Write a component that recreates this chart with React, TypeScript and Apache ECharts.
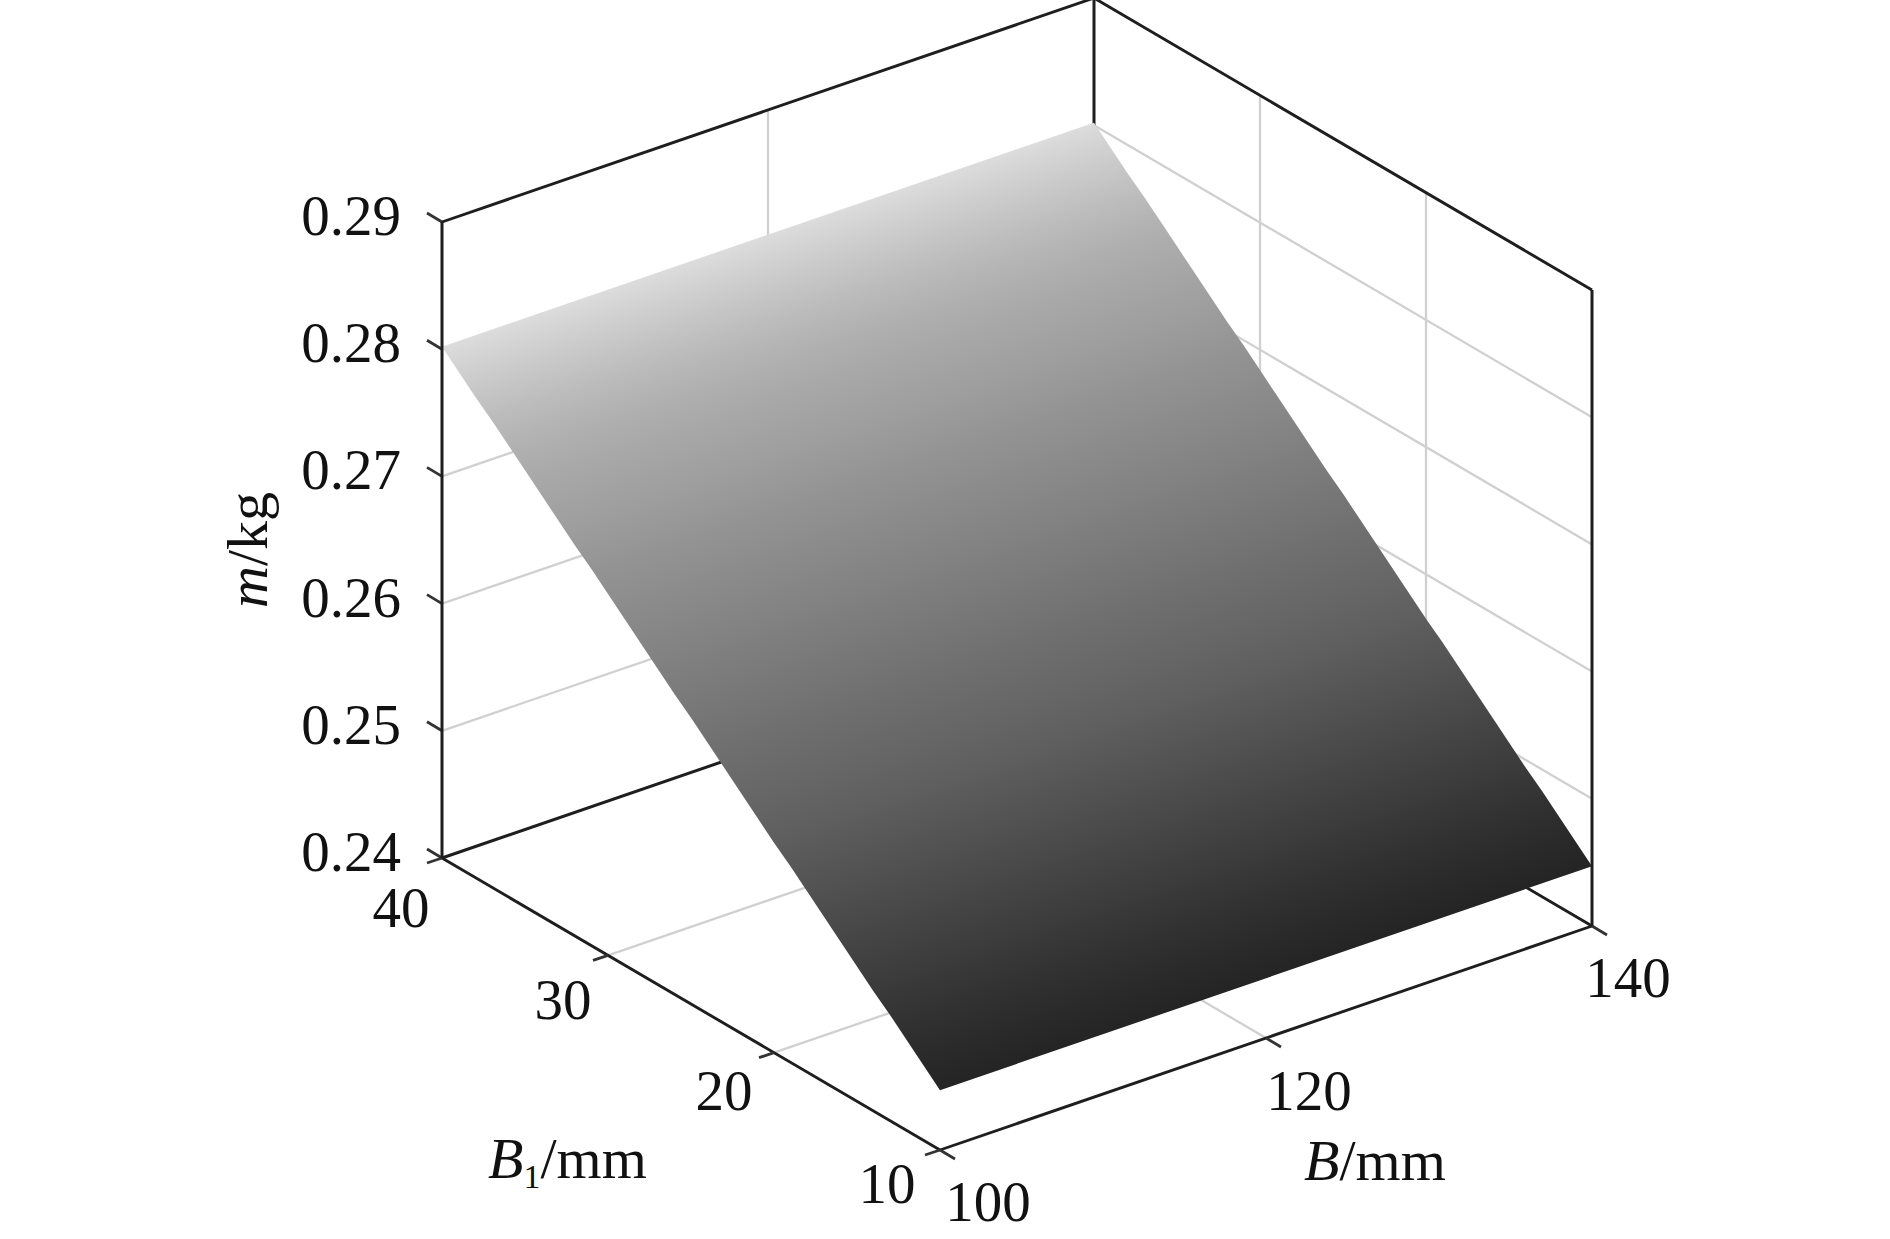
import React, { useEffect, useRef } from "react";
import * as echarts from "echarts";

// --- values ---
const bTicks = [100, 120, 140];
const b1Ticks = [40, 30, 20, 10];
const mTicks = [0.24, 0.25, 0.26, 0.27, 0.28, 0.29];
const mTickLabels = ["0.24", "0.25", "0.26", "0.27", "0.28", "0.29"];
const bTickLabels = ["100", "120", "140"];
const b1TickLabels = ["40", "30", "20", "10"];
const surfaceB = [100, 140];
const surfaceB1 = [40, 39, 38, 37, 36, 35, 34, 33, 32, 31, 30, 29, 28, 27, 26, 25, 24, 23, 22, 21, 20, 19, 18, 17, 16, 15, 14, 13, 12, 11, 10];
const surfaceM = [0.2802, 0.279, 0.2778, 0.2767, 0.2755, 0.2743, 0.2731, 0.2719, 0.2707, 0.2696, 0.2684, 0.2672, 0.266, 0.2648, 0.2636, 0.2625, 0.2613, 0.2601, 0.2589, 0.2577, 0.2565, 0.2554, 0.2542, 0.253, 0.2518, 0.2506, 0.2494, 0.2483, 0.2471, 0.2459, 0.2447];
const surfaceGray = [220, 208, 197, 187, 178, 171, 165, 160, 154, 148, 143, 138, 133, 128, 123, 118, 113, 108, 104, 99, 94, 88, 82, 76, 70, 64, 58, 52, 46, 41, 36];

// --- layout ---
const W = 1890;
const H = 1239;
const FONT = "'Liberation Serif', 'Times New Roman', serif";
const FONT_SIZE = 57;
const TITLE_SIZE = 58;
const DARK = "#1e1e1e";
const GRID = "#d0d0d0";
const TEXT = "#111111";
const mTickLabelRight = 401;
const mTickLabelDy = -6.5;
const b1LabelOffsets = [[-41, 49], [-45, 44], [-50, 38], [-53, 33]];
const bLabelOffsets = [[48, 51], [43, 52], [36, 51]];

const B0 = 100, B2 = 140, A0 = 40, A2 = 10, M0 = 0.24, M2 = 0.29;
function project(b: number, b1: number, m: number): number[] {
  const u = (b - B0) / (B2 - B0);
  const v = (A0 - b1) / (A0 - A2);
  const w = (m - M0) / (M2 - M0);
  return [442 + 652 * u + 498 * v, 858 - 224 * u + 292 * v - 636 * w];
}
type P3 = number[];
const seg = (a: P3, b: P3) => [a, b];

function lineLayer(segs: P3[][], stroke: string, lineWidth: number, z: number) {
  return {
    type: "custom",
    coordinateSystem: "cartesian2d",
    silent: true,
    clip: false,
    z,
    data: segs.map((_, i) => [i]),
    renderItem: (params: any, api: any) => {
      const s = segs[params.dataIndex];
      const a = api.coord(project(s[0][0], s[0][1], s[0][2]));
      const b = api.coord(project(s[1][0], s[1][1], s[1][2]));
      return {
        type: "line",
        shape: { x1: a[0], y1: a[1], x2: b[0], y2: b[1] },
        style: { stroke, lineWidth, fill: null },
      };
    },
  };
}

function tickLayer(anchors: P3[], dx: number, dy: number, z: number) {
  return {
    type: "custom",
    coordinateSystem: "cartesian2d",
    silent: true,
    clip: false,
    z,
    data: anchors.map((_, i) => [i]),
    renderItem: (params: any, api: any) => {
      const s = anchors[params.dataIndex];
      const a = api.coord(project(s[0], s[1], s[2]));
      return {
        type: "line",
        shape: { x1: a[0], y1: a[1], x2: a[0] + dx, y2: a[1] + dy },
        style: { stroke: "#333333", lineWidth: 2.8, fill: null },
      };
    },
  };
}

function textLayer(items: { pos: () => number[]; text: string; align: string }[], z: number) {
  return {
    type: "custom",
    coordinateSystem: "cartesian2d",
    silent: true,
    clip: false,
    z,
    data: items.map((_, i) => [i]),
    renderItem: (params: any, api: any) => {
      const it = items[params.dataIndex];
      const p = api.coord(it.pos());
      return {
        type: "text",
        style: {
          x: p[0],
          y: p[1],
          text: it.text,
          font: `${FONT_SIZE}px ${FONT}`,
          fill: TEXT,
          align: it.align,
          verticalAlign: "middle",
        },
      };
    },
  };
}

function surfaceLayer(z: number) {
  return {
    type: "custom",
    coordinateSystem: "cartesian2d",
    silent: true,
    clip: false,
    z,
    data: [[0]],
    renderItem: (_: any, api: any) => {
      const left = surfaceB1.map((a, i) => api.coord(project(surfaceB[0], a, surfaceM[i])));
      const right = surfaceB1.map((a, i) => api.coord(project(surfaceB[1], a, surfaceM[i])));
      const n = surfaceB1.length - 1;
      const dir = [right[0][0] - left[0][0], right[0][1] - left[0][1]];
      const len = Math.hypot(dir[0], dir[1]);
      const nx = -dir[1] / len;
      const ny = dir[0] / len;
      const along = (p: number[]) => (p[0] - left[0][0]) * nx + (p[1] - left[0][1]) * ny;
      const L = along(left[n]);
      const stops = left.map((p, i) => {
        const g = surfaceGray[i];
        return { offset: along(p) / L, color: `rgb(${g},${g},${g})` };
      });
      const fill = new echarts.graphic.LinearGradient(
        left[0][0],
        left[0][1],
        left[0][0] + nx * L,
        left[0][1] + ny * L,
        stops,
        true
      );
      return {
        type: "polygon",
        shape: { points: [...left, ...right.slice().reverse()] },
        style: { fill },
      };
    },
  };
}

function buildOption() {
  const gridSegs: P3[][] = [];
  mTicks.slice(1, -1).forEach((m) => {
    gridSegs.push(seg([B0, A0, m], [B2, A0, m]));
    gridSegs.push(seg([B2, A0, m], [B2, A2, m]));
  });
  bTicks.slice(1, -1).forEach((b) => {
    gridSegs.push(seg([b, A0, M0], [b, A0, M2]));
    gridSegs.push(seg([b, A0, M0], [b, A2, M0]));
  });
  b1Ticks.slice(1, -1).forEach((a) => {
    gridSegs.push(seg([B2, a, M0], [B2, a, M2]));
    gridSegs.push(seg([B0, a, M0], [B2, a, M0]));
  });

  const backEdges = [
    seg([B2, A0, M0], [B2, A0, M2]),
    seg([B0, A0, M0], [B2, A0, M0]),
    seg([B2, A0, M0], [B2, A2, M0]),
  ];
  const frontEdges = [
    seg([B0, A0, M2], [B2, A0, M2]),
    seg([B2, A0, M2], [B2, A2, M2]),
    seg([B0, A2, M0], [B2, A2, M0]),
    seg([B0, A0, M0], [B0, A2, M0]),
  ];
  const verticals = [seg([B0, A0, M0], [B0, A0, M2]), seg([B2, A2, M0], [B2, A2, M2])];

  const mLabels = mTickLabels.map((text, i) => ({
    text,
    align: "right",
    pos: () => {
      const p = project(B0, A0, mTicks[i]);
      return [mTickLabelRight, p[1] + mTickLabelDy];
    },
  }));
  const b1Labels = b1TickLabels.map((text, i) => ({
    text,
    align: "center",
    pos: () => {
      const p = project(B0, b1Ticks[i], M0);
      return [p[0] + b1LabelOffsets[i][0], p[1] + b1LabelOffsets[i][1]];
    },
  }));
  const bLabels = bTickLabels.map((text, i) => ({
    text,
    align: "center",
    pos: () => {
      const p = project(bTicks[i], A2, M0);
      return [p[0] + bLabelOffsets[i][0], p[1] + bLabelOffsets[i][1]];
    },
  }));

  const main = { fontFamily: FONT, fontSize: TITLE_SIZE, fill: TEXT };
  const rich = {
    i: { ...main, fontStyle: "italic" },
    r: { ...main },
    s: { fontFamily: FONT, fontSize: 34, fill: TEXT, verticalAlign: "bottom", lineHeight: 70 },
  };

  return {
    animation: false,
    backgroundColor: "#ffffff",
    grid: { left: 0, right: 0, top: 0, bottom: 0 },
    xAxis: { type: "value", min: 0, max: W, show: false },
    yAxis: { type: "value", min: 0, max: H, inverse: true, show: false },
    graphic: [
      {
        type: "text",
        x: 276,
        y: 550,
        rotation: Math.PI / 2,
        z: 50,
        style: { text: "{i|m}{r|/kg}", rich, align: "center", verticalAlign: "bottom", font: `${TITLE_SIZE}px ${FONT}`, fill: TEXT },
      },
      {
        type: "text",
        x: 488,
        y: 1193,
        z: 50,
        style: { text: "{i|B}{s|1}{r|/mm}", rich, align: "left", verticalAlign: "bottom", font: `${TITLE_SIZE}px ${FONT}`, fill: TEXT },
      },
      {
        type: "text",
        x: 1304,
        y: 1189,
        z: 50,
        style: { text: "{i|B}{r|/mm}", rich, align: "left", verticalAlign: "bottom", font: `${TITLE_SIZE}px ${FONT}`, fill: TEXT },
      },
    ],
    series: [
      lineLayer(gridSegs, GRID, 2.3, 1),
      lineLayer(backEdges, DARK, 3, 2),
      surfaceLayer(3),
      lineLayer(frontEdges, DARK, 2.9, 4),
      lineLayer(verticals, DARK, 3, 5),
      tickLayer(mTicks.map((m) => [B0, A0, m]), -15, -9, 4),
      tickLayer(b1Ticks.map((a) => [B0, a, M0]), -15, 5, 4),
      tickLayer(bTicks.map((b) => [b, A2, M0]), 15, 9, 4),
      textLayer([...mLabels, ...b1Labels, ...bLabels], 6),
    ],
  };
}

export default function App() {
  const ref = useRef<HTMLDivElement>(null);
  useEffect(() => {
    const chart = echarts.init(ref.current!, undefined, { renderer: "svg" });
    chart.setOption(buildOption() as any);
    return () => chart.dispose();
  }, []);
  return <div ref={ref} style={{ position: "absolute", left: 0, top: 0, width: W, height: H }} />;
}
